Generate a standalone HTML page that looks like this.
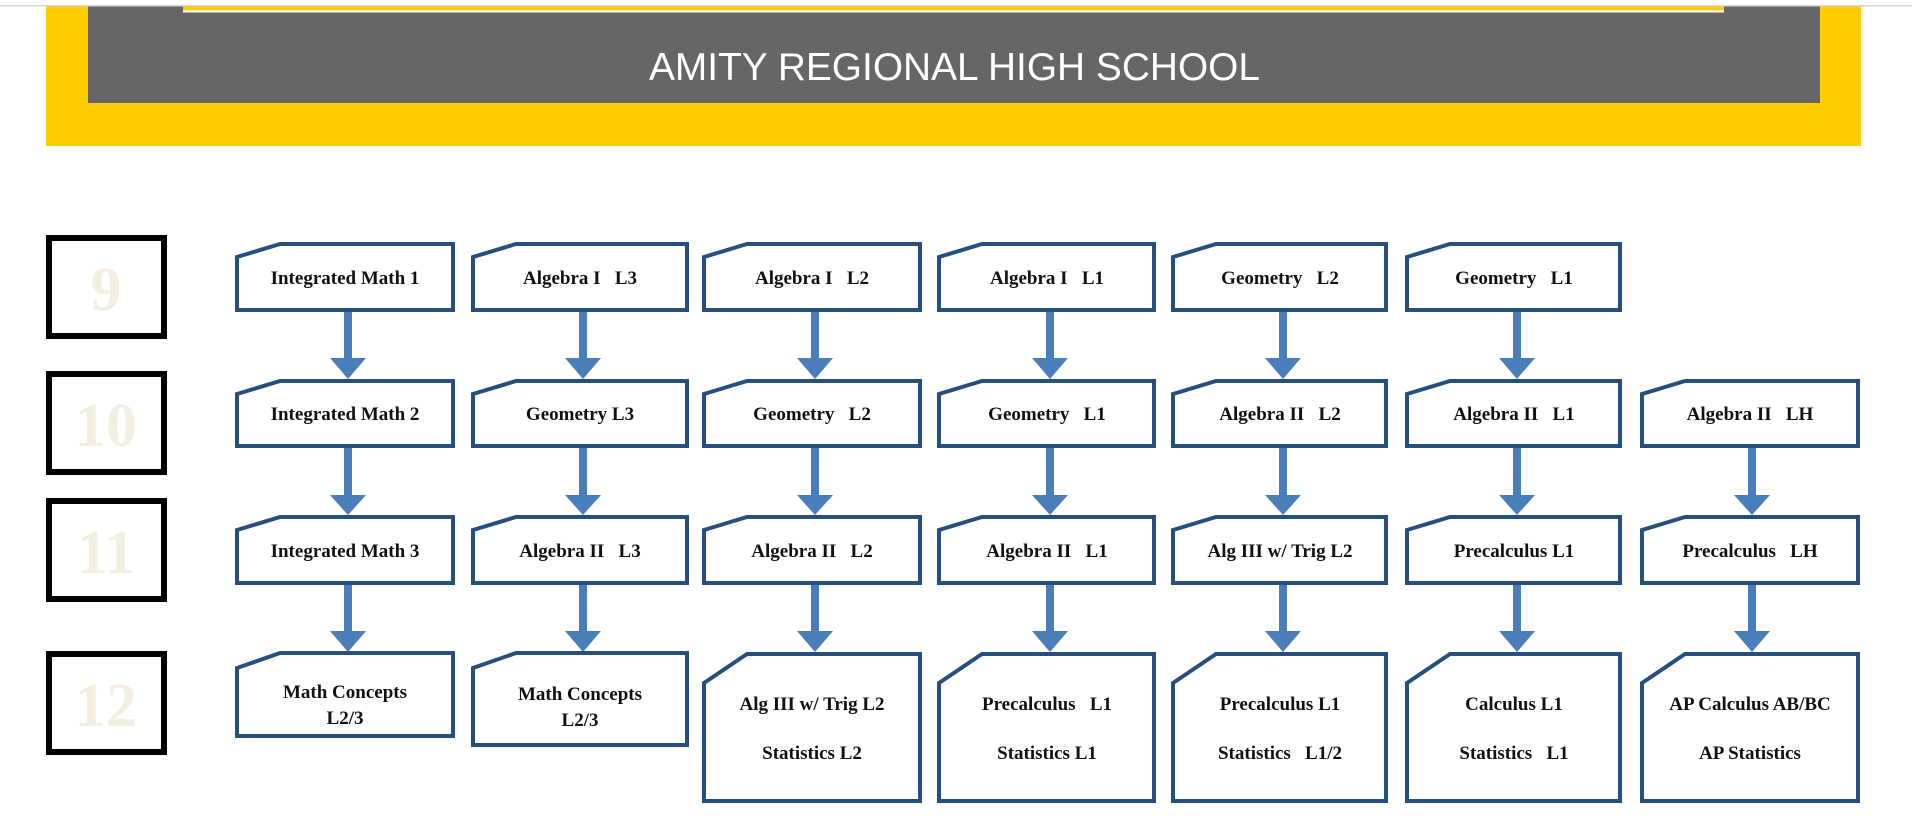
<!DOCTYPE html>
<html><head><meta charset="utf-8"><style>
html,body{margin:0;padding:0;background:#fff;}
svg{display:block;}
.t text{white-space:pre;}
</style></head><body>
<svg width="1912" height="820" viewBox="0 0 1912 820" xmlns="http://www.w3.org/2000/svg">
<rect x="0" y="0" width="1912" height="820" fill="#fff"/>
<rect x="0" y="5" width="1912" height="1.5" fill="#d4d4d4"/>
<rect x="46" y="6.5" width="1815" height="139.5" fill="#ffcc00"/>
<rect x="88" y="6.5" width="1732" height="96.5" fill="#666666"/>
<rect x="183" y="6.5" width="1541" height="4" fill="#ffcc00"/>
<rect x="183" y="10.5" width="1541" height="2" fill="#ffffff"/>
<text x="649" y="80" textLength="611" lengthAdjust="spacingAndGlyphs" font-family="Liberation Sans, sans-serif" font-size="39" fill="#ffffff">AMITY REGIONAL HIGH SCHOOL</text>

<g fill="none" stroke="#000" stroke-width="6">
<rect x="49" y="238" width="115" height="98"/>
<rect x="49" y="374" width="115" height="98"/>
<rect x="49" y="501" width="115" height="98"/>
<rect x="49" y="654" width="115" height="98"/>
</g>
<g font-family="Liberation Serif, serif" font-weight="bold" font-size="62" fill="#f3efe0" text-anchor="middle">
<text x="106" y="310">9</text>
<text x="106" y="446">10</text>
<text x="106" y="573">11</text>
<text x="106" y="726">12</text>
</g>

<g fill="#4a7ebb">
<rect x="344" y="312" width="8" height="48"/><polygon points="330,358 366,358 348,379"/>
<rect x="579" y="312" width="8" height="48"/><polygon points="565,358 601,358 583,379"/>
<rect x="811" y="312" width="8" height="48"/><polygon points="797,358 833,358 815,379"/>
<rect x="1046" y="312" width="8" height="48"/><polygon points="1032,358 1068,358 1050,379"/>
<rect x="1279" y="312" width="8" height="48"/><polygon points="1265,358 1301,358 1283,379"/>
<rect x="1513" y="312" width="8" height="48"/><polygon points="1499,358 1535,358 1517,379"/>

<rect x="344" y="448" width="8" height="48"/><polygon points="330,495 366,495 348,515"/>
<rect x="579" y="448" width="8" height="48"/><polygon points="565,495 601,495 583,515"/>
<rect x="811" y="448" width="8" height="48"/><polygon points="797,495 833,495 815,515"/>
<rect x="1046" y="448" width="8" height="48"/><polygon points="1032,495 1068,495 1050,515"/>
<rect x="1279" y="448" width="8" height="48"/><polygon points="1265,495 1301,495 1283,515"/>
<rect x="1513" y="448" width="8" height="48"/><polygon points="1499,495 1535,495 1517,515"/>
<rect x="1748" y="448" width="8" height="48"/><polygon points="1734,495 1770,495 1752,515"/>

<rect x="344" y="585" width="8" height="47"/><polygon points="330,631 366,631 348,652"/>
<rect x="579" y="585" width="8" height="47"/><polygon points="565,631 601,631 583,652"/>
<rect x="811" y="585" width="8" height="47"/><polygon points="797,631 833,631 815,652"/>
<rect x="1046" y="585" width="8" height="47"/><polygon points="1032,631 1068,631 1050,652"/>
<rect x="1279" y="585" width="8" height="47"/><polygon points="1265,631 1301,631 1283,652"/>
<rect x="1513" y="585" width="8" height="47"/><polygon points="1499,631 1535,631 1517,652"/>
<rect x="1748" y="585" width="8" height="47"/><polygon points="1734,631 1770,631 1752,652"/>
</g>

<g fill="#fff" stroke="#264f80" stroke-width="4" stroke-linejoin="miter">
<polygon points="237,257 280,244 453,244 453,310 237,310"/>
<polygon points="473,257 516,244 687,244 687,310 473,310"/>
<polygon points="704,257 747,244 920,244 920,310 704,310"/>
<polygon points="939,257 982,244 1154,244 1154,310 939,310"/>
<polygon points="1173,257 1216,244 1386,244 1386,310 1173,310"/>
<polygon points="1407,257 1450,244 1620,244 1620,310 1407,310"/>
<polygon points="237,394 280,381 453,381 453,446 237,446"/>
<polygon points="473,394 516,381 687,381 687,446 473,446"/>
<polygon points="704,394 747,381 920,381 920,446 704,446"/>
<polygon points="939,394 982,381 1154,381 1154,446 939,446"/>
<polygon points="1173,394 1216,381 1386,381 1386,446 1173,446"/>
<polygon points="1407,394 1450,381 1620,381 1620,446 1407,446"/>
<polygon points="1642,394 1685,381 1858,381 1858,446 1642,446"/>
<polygon points="237,530 280,517 453,517 453,583 237,583"/>
<polygon points="473,530 516,517 687,517 687,583 473,583"/>
<polygon points="704,530 747,517 920,517 920,583 704,583"/>
<polygon points="939,530 982,517 1154,517 1154,583 939,583"/>
<polygon points="1173,530 1216,517 1386,517 1386,583 1173,583"/>
<polygon points="1407,530 1450,517 1620,517 1620,583 1407,583"/>
<polygon points="1642,530 1685,517 1858,517 1858,583 1642,583"/>
<polygon points="237,668 280,653 453,653 453,736 237,736"/>
<polygon points="473,668 516,653 687,653 687,745 473,745"/>
<polygon points="704,683 747,654 920,654 920,801 704,801"/>
<polygon points="939,683 982,654 1154,654 1154,801 939,801"/>
<polygon points="1173,683 1216,654 1386,654 1386,801 1173,801"/>
<polygon points="1407,683 1450,654 1620,654 1620,801 1407,801"/>
<polygon points="1642,683 1685,654 1858,654 1858,801 1642,801"/>
</g>

<g class="t" font-family="Liberation Serif, serif" font-weight="bold" font-size="19" fill="#111" text-anchor="middle">
<text x="345" y="284">Integrated Math 1</text>
<text x="580" y="284">Algebra I   L3</text>
<text x="812" y="284">Algebra I   L2</text>
<text x="1047" y="284">Algebra I   L1</text>
<text x="1280" y="284">Geometry   L2</text>
<text x="1514" y="284">Geometry   L1</text>

<text x="345" y="420">Integrated Math 2</text>
<text x="580" y="420">Geometry L3</text>
<text x="812" y="420">Geometry   L2</text>
<text x="1047" y="420">Geometry   L1</text>
<text x="1280" y="420">Algebra II   L2</text>
<text x="1514" y="420">Algebra II   L1</text>
<text x="1750" y="420">Algebra II   LH</text>

<text x="345" y="557">Integrated Math 3</text>
<text x="580" y="557">Algebra II   L3</text>
<text x="812" y="557">Algebra II   L2</text>
<text x="1047" y="557">Algebra II   L1</text>
<text x="1280" y="557">Alg III w/ Trig L2</text>
<text x="1514" y="557">Precalculus L1</text>
<text x="1750" y="557">Precalculus   LH</text>

<text x="345" y="698">Math Concepts</text>
<text x="345" y="724">L2/3</text>
<text x="580" y="700">Math Concepts</text>
<text x="580" y="726">L2/3</text>
<text x="812" y="710">Alg III w/ Trig L2</text>
<text x="812" y="759">Statistics L2</text>
<text x="1047" y="710">Precalculus   L1</text>
<text x="1047" y="759">Statistics L1</text>
<text x="1280" y="710">Precalculus L1</text>
<text x="1280" y="759">Statistics   L1/2</text>
<text x="1514" y="710">Calculus L1</text>
<text x="1514" y="759">Statistics   L1</text>
<text x="1750" y="710">AP Calculus AB/BC</text>
<text x="1750" y="759">AP Statistics</text>
</g>
</svg>
</body></html>
